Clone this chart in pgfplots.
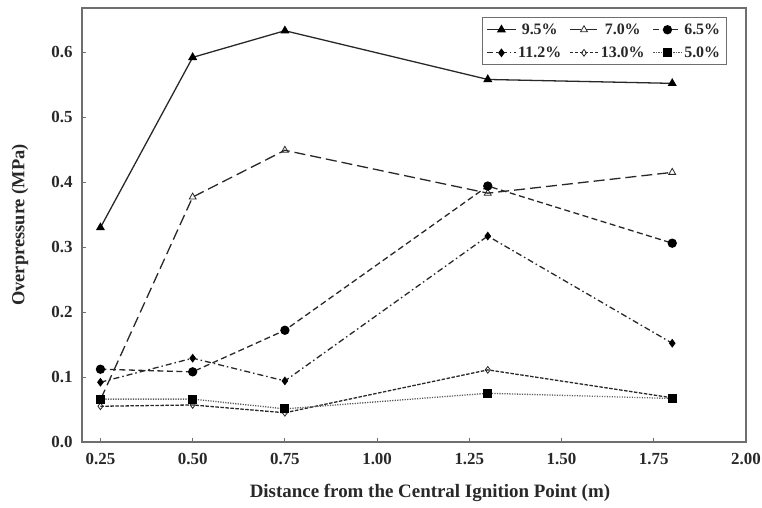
\documentclass[border=0pt]{standalone}
\usepackage{pgfplots}
\pgfplotsset{compat=1.18}
\usepackage{fontspec}
\setmainfont{Liberation Serif}

\definecolor{frame}{RGB}{110,110,110}
\definecolor{ink}{RGB}{40,40,40}

\begin{document}
\begin{tikzpicture}
\useasboundingbox (-82bp,-66bp) rectangle (680bp,442bp);
\begin{axis}[
  scale only axis,
  width=664bp, height=434bp,
  xmin=0.2, xmax=2.0,
  ymin=0, ymax=0.668,
  xtick={0.25,0.5,...,2.0},
  ytick={0,0.1,...,0.6},
  tick align=inside,
  xtick pos=bottom, ytick pos=left,
  major tick length=4bp,
  axis line style={draw=frame, line width=1.4pt},
  tick style={draw=frame, line width=0.8pt},
  /pgf/number format/assume math mode=true,
  xticklabel style={/pgf/number format/fixed, /pgf/number format/fixed zerofill, /pgf/number format/precision=2, yshift=-8bp},
  yticklabel style={/pgf/number format/fixed, /pgf/number format/fixed zerofill, /pgf/number format/precision=1, xshift=-6bp},
  tick label style={font=\fontsize{17}{17}\selectfont\bfseries, text=ink},
  xlabel={Distance from the Central Ignition Point (m)},
  ylabel={Overpressure (MPa)},
  xlabel style={font=\fontsize{19}{19}\selectfont\bfseries, text=ink,
    at={(axis description cs:0.524,-0.1175)}, anchor=center},
  ylabel style={font=\fontsize{18.5}{18.5}\selectfont\bfseries, text=ink,
    at={(axis description cs:-0.0934,0.5)}, anchor=center},
  legend columns=3,
  legend style={at={(0.971,0.979)}, anchor=north east, draw=frame, line width=1.2pt,
    font=\fontsize{16}{16}\selectfont\bfseries, text=ink,
    /tikz/every even column/.append style={column sep=6bp},
    row sep=7bp, inner sep=4bp},
  legend image code/.code={%
    \draw[mark repeat=2,mark phase=2,#1] plot coordinates {(0cm,0cm) (0.5cm,0cm) (1cm,0cm)};},
  every axis plot/.append style={line width=1.3pt, draw=ink},
]
% 9.5 %
\addplot[solid, mark=triangle*, mark size=4pt, mark options={solid, fill=black, draw=black}]
  coordinates {(0.25,0.330) (0.50,0.592) (0.75,0.633) (1.30,0.558) (1.80,0.552)};
\addlegendentry{9.5\%}
% 7.0 %
\addplot[dash pattern=on 11bp off 5bp, mark=triangle, mark size=4pt, mark options={solid, draw=ink, fill=white, line width=0.8pt}]
  coordinates {(0.25,0.065) (0.50,0.377) (0.75,0.449) (1.30,0.383) (1.80,0.415)};
\addlegendentry{7.0\%}
% 6.5 %
\addplot[dash pattern=on 6bp off 3.5bp, mark=*, mark size=4pt, mark options={solid, fill=black, draw=black}]
  coordinates {(0.25,0.112) (0.50,0.108) (0.75,0.172) (1.30,0.394) (1.80,0.306)};
\addlegendentry{6.5\%}
% 11.2 %
\addplot[dash pattern=on 6bp off 3bp on 1.5bp off 3bp, mark=diamond*, mark size=3.4pt, mark options={solid, fill=black, draw=black}]
  coordinates {(0.25,0.092) (0.50,0.129) (0.75,0.094) (1.30,0.317) (1.80,0.152)};
\addlegendentry{11.2\%}
% 13.0 %
\addplot[dash pattern=on 3.5bp off 1.5bp, mark=diamond, mark size=3.4pt, mark options={solid, draw=ink, fill=white, line width=0.8pt}]
  coordinates {(0.25,0.055) (0.50,0.057) (0.75,0.045) (1.30,0.111) (1.80,0.068)};
\addlegendentry{13.0\%}
% 5.0 %
\addplot[dash pattern=on 1.2bp off 1.3bp, draw=black!65, mark=square*, mark size=3.8pt, mark options={solid, fill=black, draw=black}]
  coordinates {(0.25,0.066) (0.50,0.066) (0.75,0.051) (1.30,0.075) (1.80,0.067)};
\addlegendentry{5.0\%}
\end{axis}
\end{tikzpicture}
\end{document}
